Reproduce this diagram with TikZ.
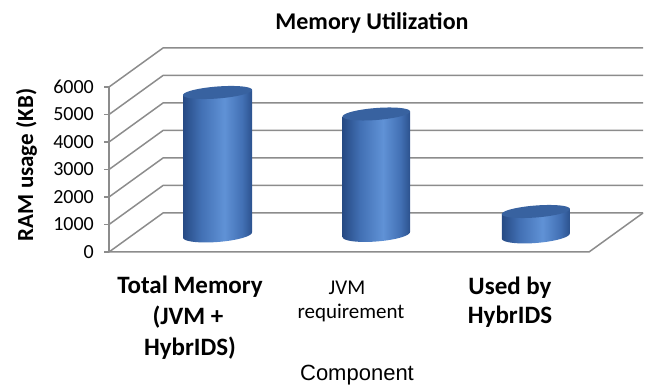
\documentclass[tikz,border=0pt]{standalone}
\usepackage{fontspec}
\setmainfont{Carlito}
\newfontfamily\arialfont{Liberation Sans}
\definecolor{gridc}{RGB}{140,140,140}
\definecolor{cdark}{RGB}{38,74,132}
\definecolor{cmid}{RGB}{66,112,180}
\definecolor{clight}{RGB}{96,146,214}
\definecolor{cedge}{RGB}{44,82,142}
\definecolor{ctop}{RGB}{56,98,160}
\pgfdeclarehorizontalshading{cylshade}{100bp}{color(0bp)=(cdark); color(25bp)=(cdark); color(38bp)=(cmid); color(55bp)=(clight); color(68bp)=(cmid); color(75bp)=(cedge); color(100bp)=(cedge)}
\newcommand\cylbar[4]{% cx, a, ytop, ybottom
  \shade[shading=cylshade] ({#1-#2},{#3+0.075*#2}) -- ({#1-#2},{#4+0.075*#2})
    -- plot[domain=0:180,samples=40] ({#1-#2*cos(\x)},{#4+7*sin(\x)+0.075*#2*cos(\x)})
    -- ({#1+#2},{#3-0.075*#2}) -- cycle;
  \fill[ctop] plot[domain=0:360,samples=73] ({#1+#2*cos(\x)},{#3+6*sin(\x)-0.075*#2*cos(\x)}) -- cycle;
}
\tikzset{
  grid/.style={draw=gridc, line width=1.5pt},
  ticklab/.style={anchor=east, font=\fontsize{20}{20}\selectfont, inner sep=0pt},
  catlab/.style={anchor=base, font=\fontsize{25}{25}\selectfont\bfseries, inner sep=0pt},
  catsmall/.style={anchor=base, font=\fontsize{21}{21}\selectfont, inner sep=0pt},
}
\begin{document}
\begin{tikzpicture}[x=1pt,y=-1pt]
\useasboundingbox (0,0) rectangle (649,387);
% back wall and side wall gridlines
\foreach \k in {0,...,6}{
  \draw[grid] (109,{252-27.5*\k}) -- (163,{213-27.5*\k}) -- (643,{213-27.5*\k});
  \draw[grid] (104,{252-27.5*\k}) -- (109,{252-27.5*\k});
}
% floor
\draw[grid] (109,252) -- (589,252) -- (643,213);
% front vertical axis
\draw[grid] (109,87) -- (109,252);
% tick labels
\foreach \k/\v in {0/0,1/1000,2/2000,3/3000,4/4000,5/5000,6/6000}{
  \node[ticklab] (t\k) at (94,{252-27.5*\k}) {\v};
}
% cylinders
\cylbar{217.5}{34.5}{92.5}{235}
\cylbar{376.3}{33.7}{114}{234.5}
\cylbar{535.8}{34}{211.5}{236}
% title
\node[font=\fontsize{24}{24}\selectfont\bfseries, anchor=base] (title) at (372,30) {Memory Utilization};
% y axis title
\node[font=\fontsize{23}{23}\selectfont\bfseries, rotate=90, anchor=base] (ylab) at (33,165) {RAM usage (KB)};
% category labels
\node[catlab] (c1a) at (190,294) {Total Memory};
\node[catlab] (c1b) at (188,325) {(JVM +};
\node[catlab] (c1c) at (190,356) {HybrIDS)};
\node[catsmall] (c2a) at (347,295) {JVM};
\node[catsmall] (c2b) at (351,319) {requirement};
\node[catlab] (c3a) at (510,295) {Used by};
\node[catlab] (c3b) at (510,324) {HybrIDS};
% x axis title
\node[font=\arialfont\fontsize{22}{22}\selectfont, anchor=base] (xlab) at (357,381) {Component};
\end{tikzpicture}
\end{document}
